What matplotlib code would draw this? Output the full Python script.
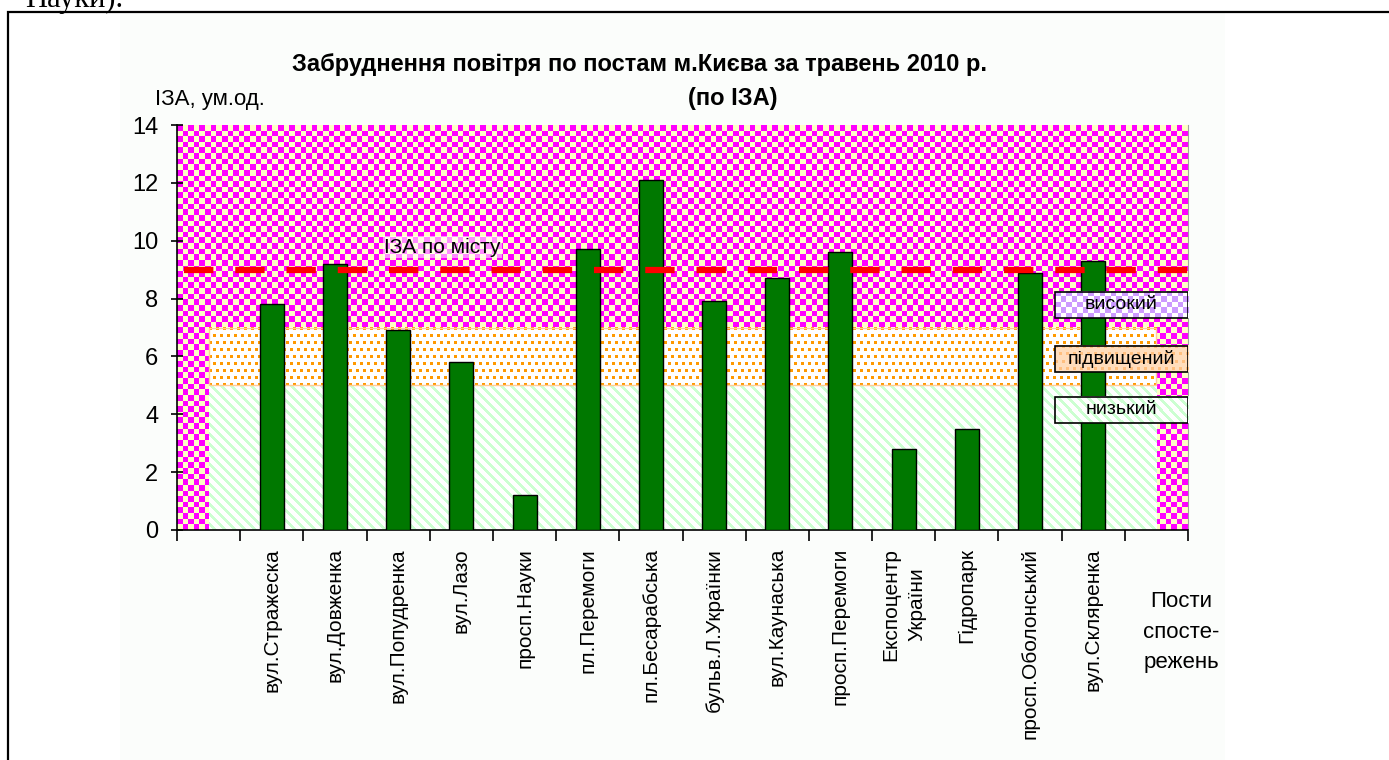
import matplotlib.pyplot as plt
import numpy as np
from matplotlib.patches import Rectangle

plt.rcParams['font.family'] = ['Liberation Sans', 'DejaVu Sans']

# data
stations = ["вул.Стражеска", "вул.Довженка", "вул.Попудренка", "вул.Лазо",
            "просп.Науки", "пл.Перемоги", "пл.Бесарабська", "бульв.Л.Українки",
            "вул.Каунаська", "просп.Перемоги", "Експоцентр\nУкраїни", "Гідропарк",
            "просп.Оболонський", "вул.Скляренка"]
iza = [7.8, 9.2, 6.9, 5.8, 1.2, 9.7, 12.1, 7.9, 8.7, 9.6, 2.8, 3.5, 8.9, 9.3]
city_iza = 9.0
level_low = 5.0      # низький: 0..5
level_raised = 7.0   # підвищений: 5..7
level_names = ["високий", "підвищений", "низький"]
y_max = 14

MAGENTA = np.array([1.0, 0.0, 1.0])
CREAM = np.array([1.0, 1.0, 0.78])
WHITE = np.array([1.0, 1.0, 1.0])
LGREEN = np.array([0.80, 1.0, 0.82])
ORANGE = np.array([1.0, 0.60, 0.0])
PEACH = np.array([1.0, 0.87, 0.74])
LPURPLE = np.array([0.80, 0.60, 1.0])


def checker(nx, ny, c1, c2):
    i, j = np.indices((ny, nx))
    mask = ((i + j) % 2 == 0)[..., None]
    return np.where(mask, c1, c2)


def stripes(w, h, c_line, c_bg, period=10, width=4):
    r, c = np.indices((h, w))
    mask = (((c - r) % period) < width)[..., None]
    return np.where(mask, c_line, c_bg)


def dots(w, h, c_dot, c_bg, period=7, size=3):
    r, c = np.indices((h, w))
    shift = (r // period % 2) * (period // 2)
    mask = (((r % period) < size) & (((c + shift) % period) < size))[..., None]
    return np.where(mask, c_dot, c_bg)


fig = plt.figure(figsize=(13.89, 7.6), dpi=100)

# page frame and chart area
fig.add_artist(Rectangle((120 / 1389, -0.01), 1105 / 1389, 1 - 13 / 760 + 0.01,
                         transform=fig.transFigure, facecolor='#fbfdfb',
                         edgecolor='none', zorder=0))
fig.add_artist(Rectangle((8 / 1389, -0.05), 1.1, 1 - 12 / 760 + 0.05,
                         transform=fig.transFigure, facecolor='none',
                         edgecolor='black', linewidth=1.6, zorder=1))
fig.text(25 / 1389, 1 - 7 / 760, "Науки).", family='Liberation Serif',
         fontsize=22, va='baseline', ha='left')

ax = fig.add_axes([177 / 1389, 230 / 760, 1011 / 1389, 405 / 760])
n = len(stations)
x = np.arange(1, n + 1)
x0, x1 = -0.5, n + 1.5
ax.set_xlim(x0, x1)
ax.set_ylim(0, y_max)

# background: checker for the high level
ax.imshow(checker(180, 72, MAGENTA, CREAM), extent=(x0, x1, 0, y_max),
          interpolation='nearest', aspect='auto', zorder=0)
# low level band (hatched green) and raised level band (orange dots)
bx0, bx1 = 0, n + 1
ax.imshow(stripes(948, 145, LGREEN, WHITE), extent=(bx0, bx1, 0, level_low),
          interpolation='nearest', aspect='auto', zorder=1)
ax.imshow(dots(948, 58, ORANGE, WHITE), extent=(bx0, bx1, level_low, level_raised),
          interpolation='nearest', aspect='auto', zorder=1)
ax.add_patch(Rectangle((bx0, level_low), bx1 - bx0, level_raised - level_low,
                       facecolor='none', edgecolor='#ffcc99', linewidth=1, zorder=1.5))

ax.bar(x, iza, width=0.38, color='#007800', edgecolor='black', linewidth=1, zorder=3)

# city average line
ax.plot([-0.39, 15.69], [city_iza, city_iza], color='#ff0000', linewidth=4.5,
        linestyle=(0, (4.7, 3.5)), solid_capstyle='butt', dash_capstyle='butt',
        clip_on=False, zorder=4)
ax.text(2.78, city_iza + 0.78, "ІЗА по місту", fontsize=15, va='center', ha='left',
        zorder=5, bbox=dict(facecolor='white', alpha=0.55, edgecolor='none', pad=1))

# level legend boxes
lx0, lx1 = 13.39, 15.5
boxes = [(7.33, 8.23, checker(24, 5, LPURPLE, WHITE)),
         (5.46, 6.36, dots(133, 26, np.array([1.0, 0.75, 0.5]), PEACH)),
         (3.70, 4.60, stripes(133, 26, LGREEN, WHITE))]
for name, (b0, b1, img) in zip(level_names, boxes):
    ax.imshow(img, extent=(lx0, lx1, b0, b1), interpolation='nearest',
              aspect='auto', zorder=6)
    ax.add_patch(Rectangle((lx0, b0), lx1 - lx0, b1 - b0, facecolor='none',
                           edgecolor='black', linewidth=1.2, zorder=7))
    ax.text((lx0 + lx1) / 2, (b0 + b1) / 2, name, fontsize=14, ha='center',
            va='center', zorder=8)

ax.set_xlim(x0, x1)
ax.set_ylim(0, y_max)

# axes styling
ax.spines['top'].set_visible(False)
ax.spines['right'].set_color('#a0a0a0')
ax.spines['left'].set_linewidth(1.2)
ax.spines['bottom'].set_linewidth(1.2)
ax.set_yticks(np.arange(0, y_max + 1, 2))
ax.tick_params(axis='y', direction='inout', length=9, width=1.2, labelsize=17, pad=9)
ax.set_xticks(np.arange(x0, x1 + 0.01, 1))
ax.set_xticklabels([])
ax.tick_params(axis='x', which='major', direction='out', length=8, width=1.2)
ax.set_xticks(x, minor=True)
labels = ax.set_xticklabels(stations, minor=True, rotation=90, fontsize=15,
                            va='top', ha='center', multialignment='center')
for lab in labels:
    lab.set_linespacing(1.5)
ax.tick_params(axis='x', which='minor', length=0, pad=13)

fig.text(155 / 1389, 1 - 100 / 760, "ІЗА, ум.од.", fontsize=16, ha='left', va='center')
fig.text(640 / 1389, 1 - 65 / 760, "Забруднення повітря по постам м.Києва за травень 2010 р.",
         fontsize=17, fontweight='bold', ha='center', va='center')
fig.text(733 / 1389, 1 - 98 / 760, "(по ІЗА)", fontsize=17, fontweight='bold',
         ha='center', va='center')
fig.text(1181 / 1389, 1 - 632 / 760, "Пости\nспосте-\nрежень", fontsize=16,
         ha='center', va='center', linespacing=1.6)

fig.savefig("out.png", dpi=100)
